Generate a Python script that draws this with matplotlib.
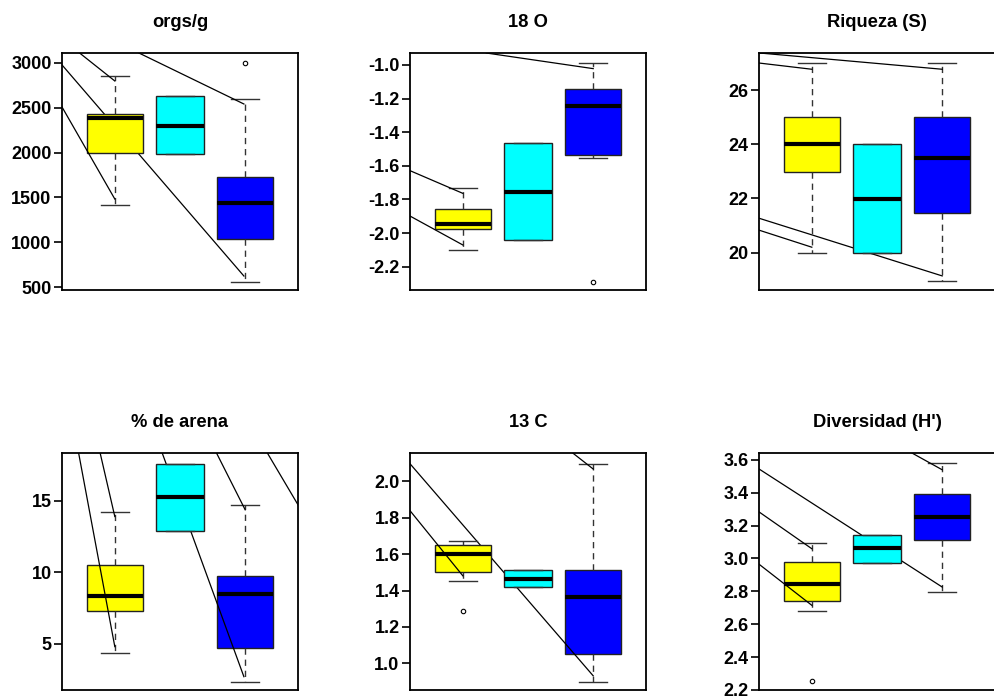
import matplotlib
matplotlib.use("Agg")
import matplotlib.pyplot as plt
from matplotlib.ticker import FormatStrFormatter

plt.rcParams['font.family'] = ['Liberation Sans', 'DejaVu Sans']
plt.rcParams['axes.unicode_minus'] = False

titles = ['orgs/g', '18 O', 'Riqueza (S)', '% de arena', '13 C', "Diversidad (H')"]
colors = ['#FFFF00', '#00FFFF', '#0000FF']

# box stats per group: whislo, q1, med, q3, whishi
orgs_stats = [[1420, 2000, 2383, 2431, 2855], [1984, 1984, 2300, 2632, 2632], [560, 1039, 1434, 1731, 2602]]
o18_stats = [[-2.101, -1.978, -1.946, -1.859, -1.730], [-2.042, -2.042, -1.756, -1.462, -1.462],
             [-1.555, -1.538, -1.242, -1.143, -0.986]]
riq_stats = [[20.0, 22.96, 24.0, 25.0, 27.0], [20.0, 20.0, 21.98, 24.0, 24.0], [18.95, 21.45, 23.49, 25.0, 27.0]]
arena_stats = [[4.39, 7.29, 8.36, 10.48, 14.21], [12.92, 12.92, 15.30, 17.57, 17.57], [2.32, 4.70, 8.48, 9.76, 14.70]]
c13_stats = [[1.450, 1.503, 1.598, 1.650, 1.674], [1.419, 1.419, 1.464, 1.510, 1.510],
             [0.896, 1.050, 1.364, 1.510, 2.097]]
div_stats = [[2.681, 2.744, 2.847, 2.980, 3.093], [2.974, 2.974, 3.061, 3.144, 3.144],
             [2.794, 3.113, 3.250, 3.392, 3.578]]

orgs_fliers = [[], [], [3000]]
o18_fliers = [[], [], [-2.29]]
riq_fliers = [[], [], []]
arena_fliers = [[], [], []]
c13_fliers = [[1.288], [], []]
div_fliers = [[2.253], [], []]

# stray connector lines seen in the original export (x0, y0, x1, y1)
orgs_lines = [(0.46, 3111, 1.0, 2799), (0.19, 2978, 2.98, 623), (0.19, 2509, 1.0, 1482), (1.37, 3111, 2.98, 2542)]
o18_lines = [(1.36, -0.929, 3.0, -1.022), (0.19, -1.629, 1.0, -1.764), (0.19, -1.899, 1.0, -2.071)]
riq_lines = [(0.19, 27.0, 1.0, 26.77), (0.2, 27.37, 3.0, 26.77), (0.19, 21.27, 3.0, 19.14), (0.19, 20.83, 1.0, 20.2)]
arena_lines = [(0.445, 18.34, 1.0, 4.81), (0.775, 18.34, 1.0, 13.9), (1.727, 18.34, 2.98, 2.71),
               (2.56, 18.34, 3.0, 14.37), (3.34, 18.34, 3.81, 14.72)]
c13_lines = [(2.686, 2.156, 3.0, 2.068), (0.19, 2.097, 3.0, 0.931), (0.19, 1.839, 1.0, 1.481)]
div_lines = [(2.536, 3.641, 3.0, 3.539), (0.19, 3.544, 3.0, 2.826), (0.19, 3.283, 1.0, 3.059),
             (0.19, 2.965, 1.0, 2.715)]

ylims = [(467, 3111), (-2.339, -0.929), (18.62, 27.37), (1.78, 18.34), (0.853, 2.156), (2.206, 3.641)]
yticks = [[500, 1000, 1500, 2000, 2500, 3000],
          [-2.2, -2.0, -1.8, -1.6, -1.4, -1.2, -1.0],
          [20, 22, 24, 26],
          [5, 10, 15],
          [1.0, 1.2, 1.4, 1.6, 1.8, 2.0],
          [2.2, 2.4, 2.6, 2.8, 3.0, 3.2, 3.4, 3.6]]
fmts = ['%d', '%.1f', '%d', '%d', '%.1f', '%.1f']

all_stats = [orgs_stats, o18_stats, riq_stats, arena_stats, c13_stats, div_stats]
all_fliers = [orgs_fliers, o18_fliers, riq_fliers, arena_fliers, c13_fliers, div_fliers]
all_lines = [orgs_lines, o18_lines, riq_lines, arena_lines, c13_lines, div_lines]

W, H = 995, 697
fig = plt.figure(figsize=(W / 100, H / 100), dpi=100)
lefts = [62, 410, 759]
tops = [53, 453]
aw, ah = 236, 237

for k in range(6):
    r, c = divmod(k, 3)
    ax = fig.add_axes([lefts[c] / W, 1 - (tops[r] + ah) / H, aw / W, ah / H])
    stats = []
    for g in range(3):
        lo, q1, med, q3, hi = all_stats[k][g]
        stats.append(dict(whislo=lo, q1=q1, med=med, q3=q3, whishi=hi, fliers=all_fliers[k][g]))
    res = ax.bxp(stats, positions=[1, 2, 3], widths=[0.85, 0.75, 0.85], capwidths=0.43,
                 patch_artist=True,
                 boxprops=dict(edgecolor='#222222', linewidth=1.0),
                 whiskerprops=dict(color='#333333', linewidth=1.0, linestyle=(0, (4.5, 3.5))),
                 capprops=dict(color='#333333', linewidth=1.0),
                 medianprops=dict(color='black', linewidth=3.0, solid_capstyle='butt'),
                 flierprops=dict(marker='o', markersize=3.2, markerfacecolor='none',
                                 markeredgecolor='black', markeredgewidth=0.8))
    for g in range(3):
        z = 2 if g == 2 else 3
        res['boxes'][g].set_facecolor(colors[g])
        res['boxes'][g].set_zorder(z)
        res['medians'][g].set_zorder(z + 0.05)
        for a in res['whiskers'][2 * g:2 * g + 2] + res['caps'][2 * g:2 * g + 2]:
            a.set_zorder(z + 0.05)
        res['fliers'][g].set_zorder(z + 0.05)

    for x0, y0, x1, y1 in all_lines[k]:
        z = 3.5 if round(x1) == 1 else 2.5
        ax.plot([x0, x1], [y0, y1], color='black', linewidth=0.9, zorder=z)

    ax.set_xlim(0.19, 3.81)
    ax.set_ylim(*ylims[k])
    ax.set_xticks([])
    ax.set_yticks(yticks[k])
    ax.yaxis.set_major_formatter(FormatStrFormatter(fmts[k]))
    ax.tick_params(axis='y', direction='out', length=6, width=1.2, pad=1.5, labelsize=13)
    for lab in ax.get_yticklabels():
        lab.set_fontweight('bold')
    for s in ax.spines.values():
        s.set_linewidth(1.3)
    ax.set_title(titles[k], fontsize=13.2, fontweight='bold', pad=19)

fig.savefig('out.png', dpi=100)
